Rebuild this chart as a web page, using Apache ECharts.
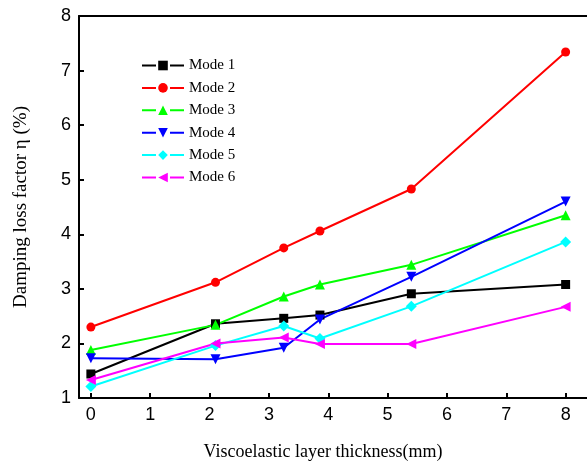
<!DOCTYPE html>
<html>
<head>
<meta charset="utf-8">
<script src="https://cdn.jsdelivr.net/npm/echarts@6/dist/echarts.min.js"></script>
<style>
html,body{margin:0;padding:0;background:#fff;}
#chart{width:587px;height:466px;}
</style>
</head>
<body>
<div id="chart"></div>
<script>
var thickness = [0, 2.1, 3.25, 3.86, 5.4, 8];
var mode1 = [1.44, 2.36, 2.46, 2.52, 2.91, 3.08];
var mode2 = [2.30, 3.12, 3.75, 4.06, 4.83, 7.34];
var mode3 = [1.88, 2.34, 2.86, 3.08, 3.44, 4.35];
var mode4 = [1.73, 1.71, 1.92, 2.44, 3.22, 4.60];
var mode5 = [1.21, 1.96, 2.32, 2.09, 2.68, 3.86];
var mode6 = [1.33, 2.00, 2.11, 1.99, 1.99, 2.67];
var xTicks = [0, 1, 2, 3, 4, 5, 6, 7, 8];
var seriesNames = ['Mode 1', 'Mode 2', 'Mode 3', 'Mode 4', 'Mode 5', 'Mode 6'];

var seriesVals = [mode1, mode2, mode3, mode4, mode5, mode6];
var colors = ['#000000', '#ff0000', '#00ff00', '#0000ff', '#00ffff', '#ff00ff'];
var symbols = ['rect', 'circle', 'triangle', 'triangle', 'diamond', 'triangle'];
var rotates = [0, 0, 0, 180, 0, 90];
var sizes = [9, 9, 10, 10, 11, 10];

var chart = echarts.init(document.getElementById('chart'));
var series = seriesVals.map(function (vals, i) {
  return {
    name: seriesNames[i],
    type: 'line',
    data: vals.map(function (v, j) { return [thickness[j], v]; }),
    symbol: symbols[i],
    symbolRotate: rotates[i],
    symbolSize: sizes[i],
    showAllSymbol: true,
    lineStyle: { color: colors[i], width: 2 },
    itemStyle: { color: colors[i] },
    emphasis: { disabled: true },
    animation: false
  };
});

chart.setOption({
  animation: false,
  color: colors,
  grid: { left: 79, top: 16, right: 0, bottom: 67, containLabel: false },
  legend: {
    orient: 'vertical',
    left: 136,
    top: 53,
    itemWidth: 42,
    itemHeight: 12,
    itemGap: 7.4,
    data: seriesNames,
    lineStyle: { type: [14, 14], width: 2 },
    textStyle: { fontFamily: 'Liberation Serif', fontSize: 15, color: '#000' }
  },
  xAxis: [{
    type: 'value',
    min: -0.2,
    max: 8.36,
    position: 'bottom',
    name: 'Viscoelastic layer thickness(mm)',
    nameLocation: 'middle',
    nameGap: 45,
    nameTextStyle: { fontFamily: 'Liberation Serif', fontSize: 18, color: '#000', padding: [0, 20, 0, 0] },
    axisLine: { show: true, onZero: false, lineStyle: { color: '#000', width: 2 } },
    axisTick: { show: true, inside: true, length: 5, customValues: xTicks, lineStyle: { color: '#000', width: 2 } },
    axisLabel: { customValues: xTicks, fontFamily: 'Liberation Sans', fontSize: 18, color: '#000', margin: 8 },
    splitLine: { show: false }
  }, {
    type: 'value',
    min: -0.2,
    max: 8.36,
    position: 'top',
    axisLine: { show: true, onZero: false, lineStyle: { color: '#000', width: 2 } },
    axisTick: { show: false },
    axisLabel: { show: false },
    splitLine: { show: false }
  }],
  yAxis: {
    type: 'value',
    min: 1,
    max: 8,
    interval: 1,
    name: 'Damping loss factor η (%)',
    nameLocation: 'middle',
    nameGap: 48,
    nameTextStyle: { fontFamily: 'Liberation Serif', fontSize: 19, color: '#000' },
    axisLine: { show: true, onZero: false, lineStyle: { color: '#000', width: 2 } },
    axisTick: { show: true, inside: true, length: 5, lineStyle: { color: '#000', width: 2 } },
    axisLabel: { fontFamily: 'Liberation Sans', fontSize: 18, color: '#000', margin: 8 },
    splitLine: { show: false }
  },
  series: series
});
</script>
</body>
</html>
